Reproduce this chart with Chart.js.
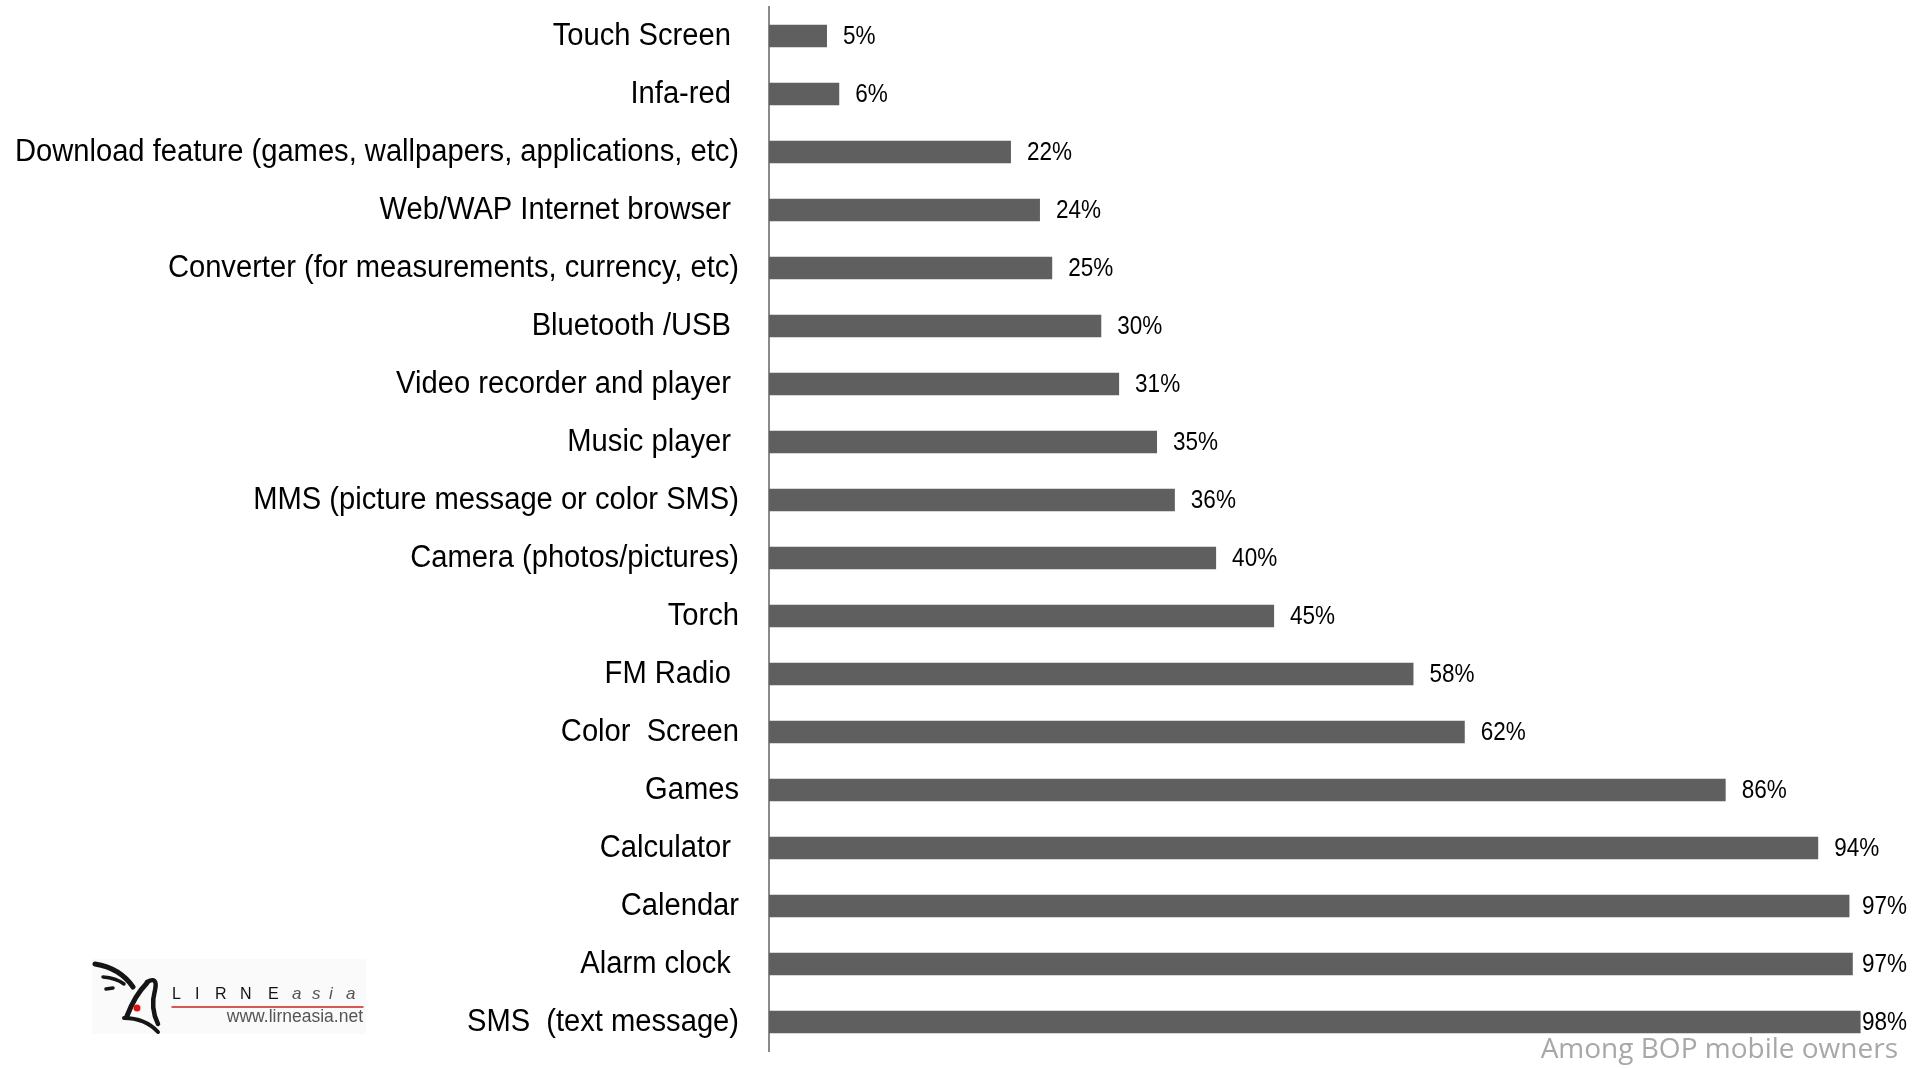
<!DOCTYPE html>
<html>
<head>
<meta charset="utf-8">
<script src="https://cdn.jsdelivr.net/npm/chart.js@4.4.1/dist/chart.umd.min.js"></script>
<style>
  body { margin: 0; background: #fff; }
  #wrap { width: 1928px; height: 1068px; position: relative; }
</style>
</head>
<body>
<div id="wrap"><canvas id="features"></canvas></div>
<script>
// labels keep their trailing spaces, the source slide had them too
const features = [
  "Touch Screen ",
  "Infa-red ",
  "Download feature (games, wallpapers, applications, etc)",
  "Web/WAP Internet browser ",
  "Converter (for measurements, currency, etc)",
  "Bluetooth /USB ",
  "Video recorder and player ",
  "Music player ",
  "MMS (picture message or color SMS)",
  "Camera (photos/pictures)",
  "Torch",
  "FM Radio ",
  "Color  Screen",
  "Games",
  "Calculator ",
  "Calendar",
  "Alarm clock ",
  "SMS  (text message)"
];
// % of BOP mobile owners whose phone has the feature
const shares = [5.2, 6.3, 21.7, 24.3, 25.4, 29.8, 31.4, 34.8, 36.4, 40.1, 45.3, 57.8, 62.4, 85.8, 94.1, 96.9, 97.2, 97.9];
const footnote = "Among BOP mobile owners";

const ctx = document.querySelector("#features").getContext("2d");

// the slide used a condensed face, so squeeze Liberation Sans sideways
function narrowText(c, txt, x, y, squeeze) {
  c.save();
  c.translate(x, y);
  c.scale(squeeze, 1);
  c.fillText(txt, 0, 0);
  c.restore();
}

const categoryLabels = {
  id: "categoryLabels",
  afterDraw(chart) {
    const c = chart.ctx;
    const y = chart.scales.y;
    c.save();
    c.font = "31px 'Liberation Sans', sans-serif";
    c.fillStyle = "#000";
    c.textAlign = "right";
    c.textBaseline = "middle";
    y.ticks.forEach((t, i) => {
      narrowText(c, features[i], y.right - 30, y.getPixelForTick(i), 0.94);
    });
    c.restore();
  },
};

const valueLabels = {
  id: "valueLabels",
  afterDatasetsDraw(chart) {
    const c = chart.ctx;
    const meta = chart.getDatasetMeta(0);
    const squeeze = 0.9;
    c.save();
    c.font = "25px 'Liberation Sans', sans-serif";
    c.fillStyle = "#000";
    c.textBaseline = "middle";
    c.textAlign = "left";
    meta.data.forEach((bar, i) => {
      const txt = Math.round(shares[i]) + "%";
      const w = c.measureText(txt).width * squeeze;
      const x = Math.min(bar.x + 16, 1907 - w); // keep inside the slide
      narrowText(c, txt, x, bar.y + 1, squeeze);
    });
    c.restore();
  },
};

const slideExtras = {
  id: "slideExtras",
  afterDraw(chart) {
    const c = chart.ctx;
    c.save();
    // footnote
    c.font = "28px 'Open Sans', sans-serif";
    c.fillStyle = "#a8a8a8";
    c.textAlign = "right";
    c.textBaseline = "alphabetic";
    c.fillText(footnote, 1898, 1058);

    // LIRNEasia logo, roughly
    c.fillStyle = "#fafafa";
    c.fillRect(92, 959, 274, 75);
    c.strokeStyle = "#151515";
    c.lineCap = "round";
    c.lineWidth = 5;
    c.beginPath();
    c.moveTo(95, 964);
    c.quadraticCurveTo(120, 968, 133, 987);
    c.stroke();
    c.lineWidth = 3.5;
    c.beginPath();
    c.moveTo(103, 977);
    c.quadraticCurveTo(116, 978, 124, 984);
    c.stroke();
    c.beginPath();
    c.moveTo(106, 989);
    c.lineTo(113, 988);
    c.stroke();
    c.lineWidth = 5;
    c.beginPath();
    c.moveTo(127, 1016);
    c.quadraticCurveTo(135, 995, 147, 983);
    c.stroke();
    c.lineWidth = 4.5;
    c.beginPath();
    c.moveTo(147, 982);
    c.quadraticCurveTo(158, 976, 155, 990);
    c.quadraticCurveTo(150, 1008, 158, 1024);
    c.stroke();
    c.lineWidth = 4;
    c.beginPath();
    c.moveTo(124, 1018);
    c.quadraticCurveTo(145, 1018, 158, 1032);
    c.stroke();
    c.fillStyle = "#e01010";
    c.beginPath();
    c.arc(137, 1008, 3.5, 0, Math.PI * 2);
    c.fill();

    c.fillStyle = "#111";
    c.textAlign = "left";
    c.font = "16px 'Liberation Sans', sans-serif";
    [["L", 172], ["I", 195], ["R", 215], ["N", 240], ["E", 268]].forEach(([ch, x]) => c.fillText(ch, x, 999));
    c.fillStyle = "#555";
    c.font = "italic 17px 'Liberation Sans', sans-serif";
    [["a", 292], ["s", 312], ["i", 329], ["a", 346]].forEach(([ch, x]) => c.fillText(ch, x, 999));
    c.strokeStyle = "#d42020";
    c.lineWidth = 1.5;
    c.beginPath();
    c.moveTo(172, 1007);
    c.lineTo(363, 1007);
    c.stroke();
    c.fillStyle = "#555";
    c.font = "17.5px 'Liberation Sans', sans-serif";
    c.textAlign = "right";
    c.fillText("www.lirneasia.net", 363, 1022);
    c.restore();
  },
};

let config = {
  type: "bar",
  data: {
    labels: features,
    datasets: [
      {
        data: shares,
        backgroundColor: "#5f5f5f",
        categoryPercentage: 1,
        barPercentage: 0.39,
      },
    ],
  },
  options: {
    indexAxis: "y",
    responsive: true,
    maintainAspectRatio: false,
    animation: false,
    layout: {
      padding: { top: 7, bottom: 17, right: 44, left: 0 },
    },
    plugins: {
      legend: { display: false },
      tooltip: { enabled: false },
    },
    scales: {
      x: {
        display: false,
        min: 0,
        max: 100,
      },
      y: {
        afterFit: (scale) => {
          scale.width = 769;
        },
        grid: { display: false, drawTicks: false },
        border: { display: true, color: "#8a8a8a", width: 2 },
        ticks: { display: false },
      },
    },
  },
  plugins: [valueLabels, categoryLabels, slideExtras],
};
var featuresChart = new Chart(ctx, config);
</script>
</body>
</html>
